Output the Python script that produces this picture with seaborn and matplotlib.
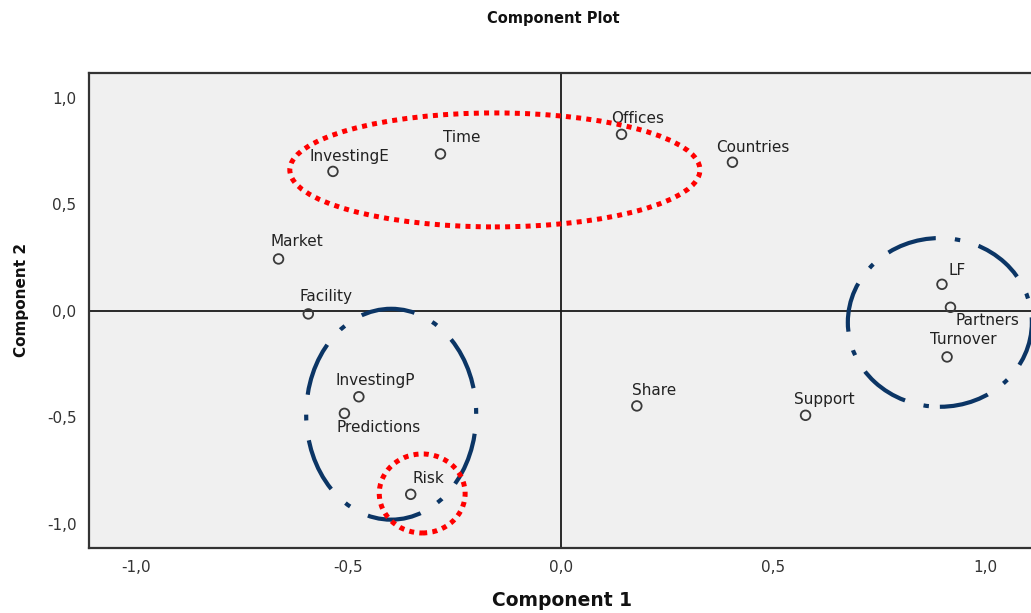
import matplotlib
matplotlib.use("Agg")
import matplotlib.pyplot as plt
from matplotlib.patches import Ellipse
import seaborn as sns
import pandas as pd

# Component loadings
variables = ["Offices", "Countries", "Time", "InvestingE", "Market", "Facility",
             "LF", "Partners", "Turnover", "Share", "Support",
             "InvestingP", "Predictions", "Risk"]
component1 = [0.143, 0.404, -0.283, -0.536, -0.664, -0.594,
              0.897, 0.917, 0.909, 0.179, 0.576,
              -0.475, -0.509, -0.353]
component2 = [0.828, 0.697, 0.736, 0.654, 0.243, -0.015,
              0.124, 0.016, -0.217, -0.447, -0.491,
              -0.404, -0.482, -0.862]

tick_values = [-1.0, -0.5, 0.0, 0.5, 1.0]
tick_labels = ["-1,0", "-0,5", "0,0", "0,5", "1,0"]

# Label placement (pixel offsets from each point)
label_offsets = {
    "Offices": (-10, 16), "Countries": (-16, 15), "Time": (3, 16),
    "InvestingE": (-23, 15), "Market": (-8, 17), "Facility": (-9, 17),
    "LF": (7, 14), "Partners": (5, -13), "Turnover": (-17, 17),
    "Share": (-5, 15), "Support": (-12, 16), "InvestingP": (-23, 16),
    "Predictions": (-8, -14), "Risk": (2, 16),
}

df = pd.DataFrame({"variable": variables, "c1": component1, "c2": component2})

sns.set_style("white")
plt.rcParams["font.family"] = ["DejaVu Sans"]

fig = plt.figure(figsize=(10.31, 6.13), dpi=100)
ax = fig.add_axes([89 / 1031, 65 / 613, 952 / 1031, 475 / 613])
ax.set_facecolor("#f0f0f0")

ax.axhline(0, color="#1a1a1a", lw=1.3, zorder=1)
ax.axvline(0, color="#1a1a1a", lw=1.3, zorder=1)

sns.scatterplot(data=df, x="c1", y="c2", ax=ax, s=48, marker="o",
                facecolors="none", edgecolors="#3a3a3a", linewidths=1.3,
                zorder=3, legend=False)

for name, x, y in zip(variables, component1, component2):
    dx, dy = label_offsets[name]
    ax.annotate(name, (x, y), xytext=(dx, dy), textcoords="offset pixels",
                ha="left", va="center", fontsize=11, color="#222222", zorder=4)

# Highlighted groups
navy = "#0b3565"
# dash-dot pattern with the dots falling on the left and right sides
dashdot = (29.7, (13, 4.8, 1.4, 4.8))
dotted = (0, (1, 1.05))
ax.add_patch(Ellipse((-0.399, -0.486), 0.40, 0.99, fill=False, ec=navy,
                     lw=3.0, ls=dashdot, zorder=5))
ax.add_patch(Ellipse((0.892, -0.055), 0.433, 0.792, fill=False, ec=navy,
                     lw=3.0, ls=(0, (12, 4.6, 1.3, 4.6)), zorder=5))
ax.add_patch(Ellipse((-0.155, 0.661), 0.965, 0.535, fill=False, ec="#ff0000",
                     lw=3.6, ls=dotted, zorder=6))
ax.add_patch(Ellipse((-0.326, -0.858), 0.202, 0.371, fill=False, ec="#ff0000",
                     lw=3.6, ls=dotted, zorder=6))

ax.set_xlim(-1.110, 1.130)
ax.set_ylim(-1.114, 1.116)
ax.set_xticks(tick_values)
ax.set_xticklabels(tick_labels)
ax.set_yticks(tick_values)
ax.set_yticklabels(tick_labels)
ax.tick_params(axis="both", direction="out", length=6, width=1.5,
               color="#333333", labelsize=11, labelcolor="#333333", pad=3)
ax.set_xlabel("")
ax.set_ylabel("")

for side in ["left", "bottom", "top"]:
    ax.spines[side].set_color("#333333")
    ax.spines[side].set_linewidth(1.6)
ax.spines["right"].set_visible(False)

fig.text(553 / 1031, 1 - 18 / 613, "Component Plot", ha="center", va="center",
         fontsize=10.5, fontweight="bold", color="#111111")
fig.text(562 / 1031, 1 - 600 / 613, "Component 1", ha="center", va="center",
         fontsize=13.5, fontweight="bold", color="#111111")
fig.text(22 / 1031, 1 - 300 / 613, "Component 2", ha="center", va="center",
         rotation=90, fontsize=11, fontweight="bold", color="#111111")

fig.savefig("out.png", dpi=100, facecolor="white")
